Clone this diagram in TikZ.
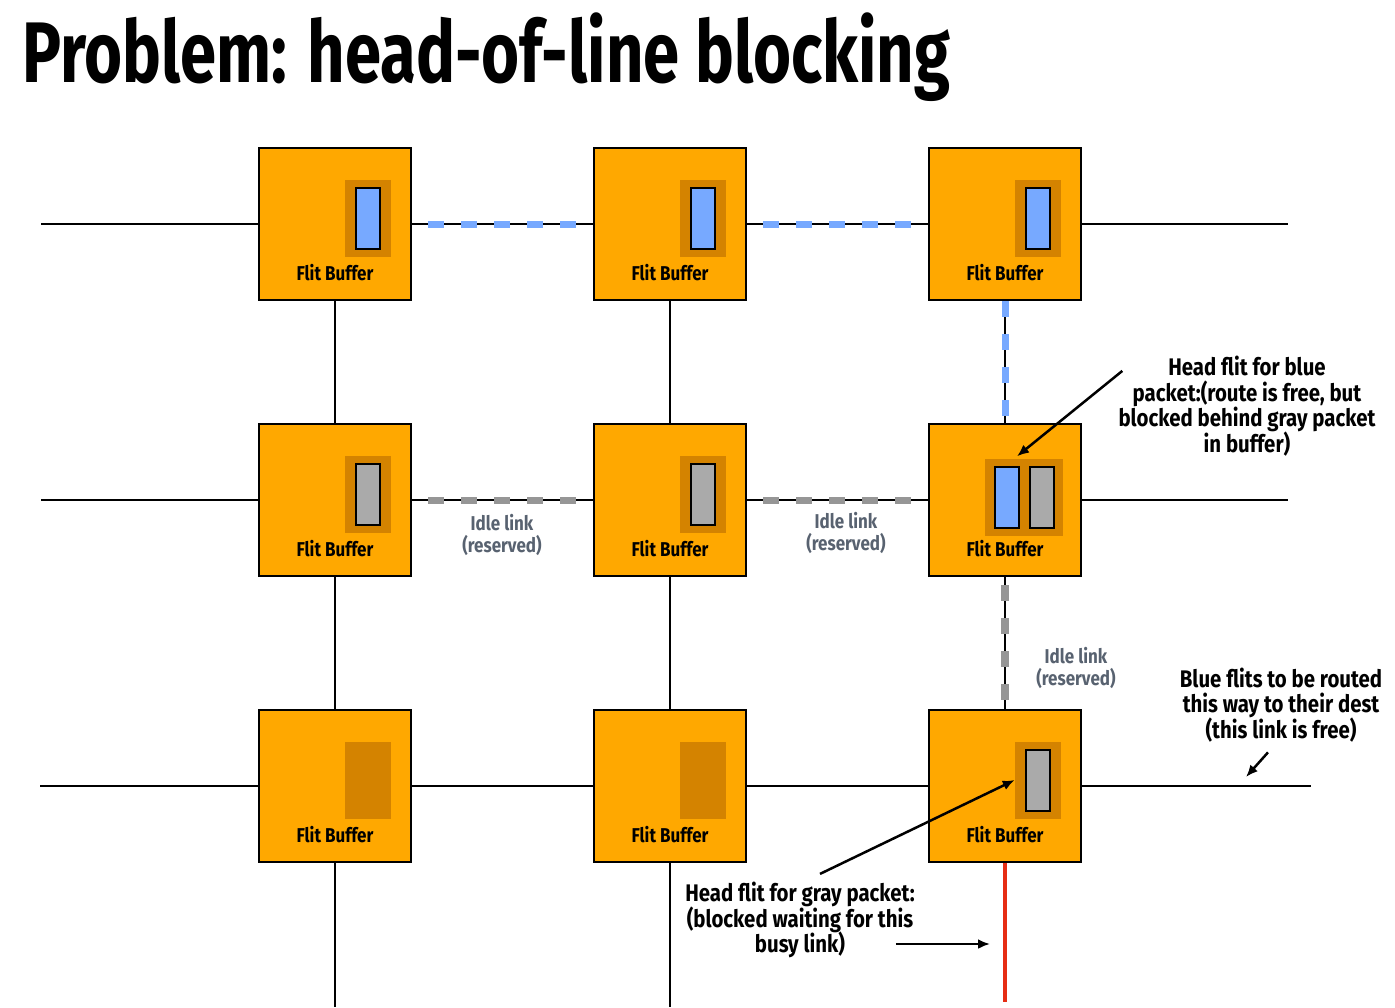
\documentclass[tikz,border=0pt]{standalone}
\usepackage{fontspec}
\setmainfont{Fira Sans}[FakeStretch=0.85]
\newfontfamily\titlefont{Fira Sans}[FakeStretch=0.758]
\usepackage{tikz}
\usetikzlibrary{arrows.meta}
\usetikzlibrary{calc}
\definecolor{routerorange}{RGB}{255,168,0}
\definecolor{slotorange}{RGB}{212,131,0}
\definecolor{flitblue}{RGB}{119,169,255}
\definecolor{flitgray}{RGB}{170,170,170}
\definecolor{dashgray}{RGB}{150,150,150}
\definecolor{idlegray}{RGB}{88,98,112}
\definecolor{busyred}{RGB}{230,45,20}
\newcommand{\tightlines}{\lineskiplimit=-20pt\relax}

\begin{document}
\begin{tikzpicture}[x=1pt, y=-1pt,
    router/.style={draw, line width=2.5pt, fill=routerorange, minimum size=152pt, inner sep=0pt},
    slot/.style={fill=slotorange, minimum width=46pt, minimum height=77pt, inner sep=0pt},
    wideslot/.style={slot, minimum width=78pt},
    flit/.style={draw, line width=2pt, minimum width=24pt, minimum height=61pt, inner sep=0pt},
    fb/.style={font=\bfseries\fontsize{20}{20}\selectfont, inner sep=0pt},
    title/.style={font=\titlefont\bfseries\fontsize{86}{86}\selectfont, inner sep=0pt},
    note/.style={font=\bfseries\fontsize{24}{25.5}\selectfont\tightlines, align=center, inner sep=0pt},
    idle/.style={idlegray, font=\bfseries\fontsize{20}{22}\selectfont\tightlines, align=center, inner sep=0pt},
    link/.style={line width=2pt},
    bluedash/.style={flitblue, line width=7pt, dash pattern=on 16pt off 17pt, shorten >=3pt},
    graydash/.style={dashgray, line width=7pt, dash pattern=on 16pt off 17pt, shorten >=3pt},
    busy/.style={busyred, line width=4pt},
    arr/.style={line width=2.5pt, -{Latex[length=12pt, width=10pt]}}]
    \useasboundingbox (0,0) rectangle (1395,1007);

    % Title
    \node[title, anchor=base west] (title) at (22,82) {Problem: head-of-line blocking};

    % Routers
    \foreach \r/\y in {1/224,2/500,3/786}
      \foreach \c/\x in {1/335,2/670,3/1005} {
        \node[router] (r\r\c) at (\x,\y) {};
        \node[fb] (t\r\c) at ($(r\r\c)+(0,49)$) {Flit Buffer};
      }

    % Buffer slots
    \foreach \n in {11,12,13,21,22,31,32,33}
      \node[slot] (s\n) at ($(r\n)+(33,-6)$) {};
    \node[wideslot] (s23) at ($(r23)+(19,-3)$) {};

    % Flits (blue packet, gray packet)
    \foreach \n in {11,12,13}
      \node[flit, fill=flitblue] (b\n) at (s\n) {};
    \node[flit, fill=flitblue] (b23) at ($(s23)+(-17.5,0)$) {};
    \foreach \n in {21,22}
      \node[flit, fill=flitgray] (g\n) at (s\n) {};
    \node[flit, fill=flitgray] (g23) at ($(s23)+(17.5,0)$) {};
    \node[flit, fill=flitgray] (g33) at (s33) {};

    % Free ends of the links
    \coordinate (w1) at (41,224);   \coordinate (e1) at (1288,224);
    \coordinate (w2) at (41,500);   \coordinate (e2) at (1288,500);
    \coordinate (w3) at (40,786);   \coordinate (e3) at (1311,786);
    \coordinate (n1) at (335,1007); \coordinate (n2) at (670,1007);
    \coordinate (rend) at (1005,1002);

    % Links
    \foreach \r in {1,2,3}
      \draw[link] (w\r) -- (r\r1) -- (r\r2) -- (r\r3) -- (e\r);
    \foreach \c in {1,2}
      \draw[link] (r1\c) -- (r2\c) -- (r3\c) -- (n\c);
    \draw[link] (r13) -- (r23) -- (r33);

    % Reserved links
    \draw[bluedash, dash phase=17pt] (r11) -- (r12);
    \draw[bluedash, dash phase=17pt] (r12) -- (r13);
    \draw[bluedash] (r13) -- (r23);
    \draw[graydash, dash phase=17pt] (r21) -- (r22);
    \draw[graydash, dash phase=17pt] (r22) -- (r23);
    \draw[graydash, line width=8pt, dash phase=25pt] (r23) -- (r33);
    \draw[busy] (r33) -- (rend);

    % Labels
    \node[idle] (i1) at (502,535) {Idle link\\(reserved)};
    \node[idle] (i2) at (846,533) {Idle link\\(reserved)};
    \node[idle] (i3) at (1076,668) {Idle link\\(reserved)};
    \node[note] (bnote) at (1247,406) {Head flit for blue\\packet:(route is free, but\\blocked behind gray packet\\in buffer)};
    \node[note] (fnote) at (1281,705) {Blue flits to be routed\\this way to their dest\\(this link is free)};
    \node[note] (gnote) at (800,920) {Head flit for gray packet:\\(blocked waiting for this\\busy link)};

    % Arrows
    \coordinate (dest) at (1246,777);
    \coordinate (busyend) at (990,944);
    \draw[arr] ([xshift=4pt,yshift=-15pt]bnote.north west) -- ([xshift=-7pt,yshift=2pt]s23.north);
    \draw[arr] ([xshift=-13pt,yshift=-10pt]fnote.south) -- (dest);
    \draw[arr] ([xshift=20pt,yshift=8pt]gnote.north) -- (s33.west);
    \draw[arr] (gnote.south east |- busyend) ++(-19,0) -- (busyend);
\end{tikzpicture}
\end{document}
